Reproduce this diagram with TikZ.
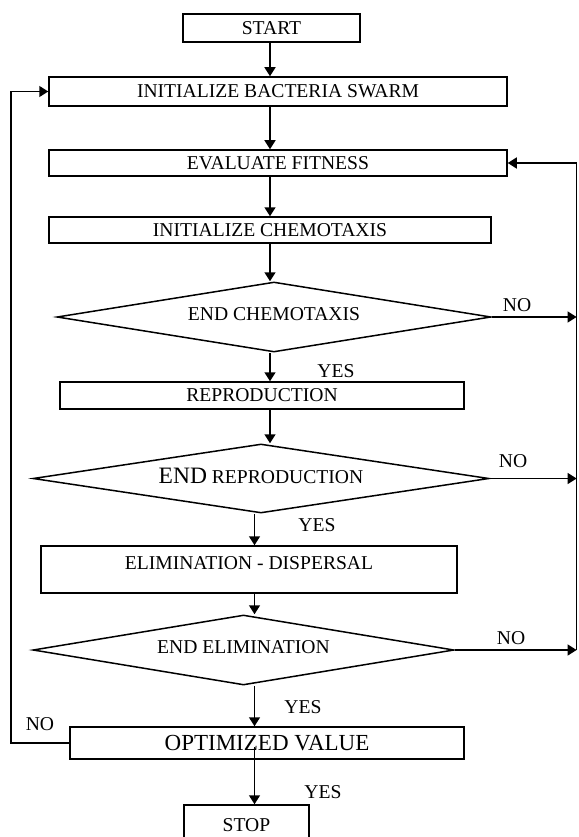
\documentclass[tikz,border=0pt]{standalone}
\usepackage{fontspec}
\setmainfont{Liberation Serif}
\usetikzlibrary{shapes.geometric,arrows.meta}
\begin{document}
\begin{tikzpicture}[x=1pt,y=-1pt,
  every node/.style={font=\fontsize{19.6}{21}\selectfont},
  procbox/.style={draw, line width=1.5pt, rectangle, inner sep=0pt},
  decbox/.style={draw, line width=1.5pt, diamond, aspect=6, inner sep=0pt, text depth=6pt},
  lbl/.style={inner sep=0pt},
  conn/.style={line width=1.5pt, -{Triangle[length=9pt,width=11pt]}},
  plainline/.style={line width=1.5pt}]
\useasboundingbox (0,0) rectangle (578,837);
% helper coordinates
\coordinate (xa) at (270,0);
\coordinate (xb) at (254.5,0);
\coordinate (lx) at (11,0);
\coordinate (rx) at (576.6,0);
% nodes
\node[procbox, minimum width=177pt, minimum height=28pt] (start) at (271.5,28) {START};
\node[procbox, minimum width=458pt, minimum height=29pt] (init) at (278,91.5) {INITIALIZE BACTERIA SWARM};
\node[procbox, minimum width=458pt, minimum height=26pt] (eval) at (278,163) {EVALUATE FITNESS};
\node[procbox, minimum width=442pt, minimum height=26pt] (ichem) at (270,230) {INITIALIZE CHEMOTAXIS};
\node[decbox, minimum width=434pt, minimum height=70pt] (d1) at (274,317) {END CHEMOTAXIS};
\node[procbox, minimum width=404pt, minimum height=27pt] (repro) at (262,395.5) {REPRODUCTION};
\node[decbox, minimum width=456pt, minimum height=69pt] (d2) at (261,478.5) {{\fontsize{23.5}{25}\selectfont END} REPRODUCTION};
\node[procbox, minimum width=416pt, minimum height=47pt, text depth=13pt] (elim) at (249,569.5) {ELIMINATION - DISPERSAL};
\node[decbox, minimum width=421pt, minimum height=70pt] (d3) at (243.5,650) {END ELIMINATION};
\node[procbox, minimum width=394pt, minimum height=32pt, font=\fontsize{23}{25}\selectfont] (opt) at (267,743) {OPTIMIZED VALUE};
\node[procbox, minimum width=125pt, minimum height=40pt] (stop) at (246.5,825) {STOP};
% labels
\node[lbl] (no1) at (517,305) {NO};
\node[lbl] (yes1) at (336,371) {YES};
\node[lbl] (no2) at (513,461) {NO};
\node[lbl] (yes2) at (317,525) {YES};
\node[lbl] (no3) at (511,638) {NO};
\node[lbl] (yes3) at (303,707) {YES};
\node[lbl] (no4) at (40,724) {NO};
\node[lbl] (yes4) at (323,792) {YES};
% vertical connectors
\draw[conn] (xa |- start.south) -- (xa |- init.north);
\draw[conn] (xa |- init.south) -- (xa |- eval.north);
\draw[conn] (xa |- eval.south) -- (xa |- ichem.north);
\draw[conn] (xa |- ichem.south) -- (xa |- d1.north);
\draw[conn] (xa |- d1.south) -- (xa |- repro.north);
\draw[conn] (xa |- repro.south) -- (xa |- d2.north);
\draw[conn] (xb |- d2.south) -- (xb |- elim.north);
\draw[conn] (xb |- elim.south) -- (xb |- d3.north);
\draw[conn] (xb |- d3.south) -- (xb |- opt.north);
\coordinate (optout) at ([yshift=-4pt]opt.center);
\draw[conn] (xb |- optout) -- (xb |- stop.north);
% NO branches to the right
\draw[conn] (d1.east) -- (rx |- d1.east);
\draw[conn] (d2.east) -- (rx |- d2.east);
\draw[conn] (d3.east) -- (rx |- d3.east);
\draw[conn] (rx |- d3.east) -- (rx |- eval.east) -- (eval.east);
% left loop
\draw[conn] (opt.west) -- (lx |- opt.west) -- (lx |- init.west) -- (init.west);
\end{tikzpicture}
\end{document}
